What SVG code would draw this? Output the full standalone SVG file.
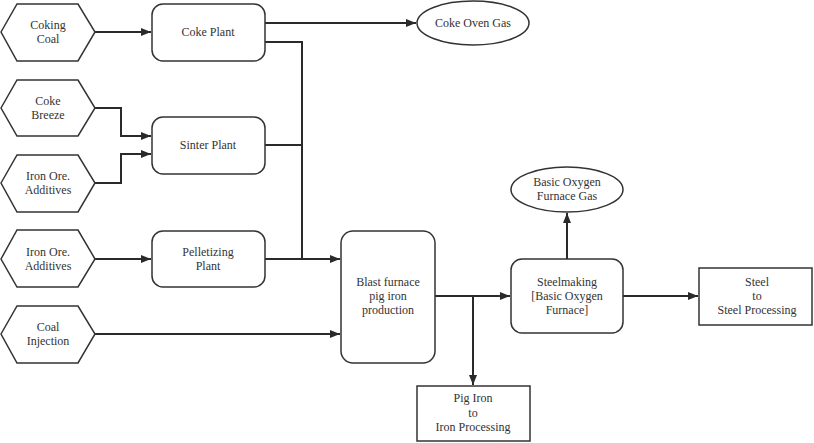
<svg xmlns="http://www.w3.org/2000/svg" width="814" height="443" viewBox="0 0 814 443">
<style>
.shape{fill:#fff;stroke:#333;stroke-width:1.5}
text{font-family:'Liberation Serif','Times New Roman',Times,'DejaVu Serif',serif;font-size:12px;fill:#333;text-anchor:middle}
.c{fill:none;stroke:#2a2a2a;stroke-width:2}
</style>
<defs>
<marker id="ah" viewBox="0 0 10 8" refX="10" refY="4" markerWidth="10" markerHeight="8" markerUnits="userSpaceOnUse" orient="auto">
<path d="M0,0 L10,4 L0,8 Z" fill="#2a2a2a"/>
</marker>
</defs>
<rect width="814" height="443" fill="#fff"/>
<g id="connectors">
<path class="c" d="M95,32 H151" marker-end="url(#ah)"/>
<path class="c" d="M265,23 H416" marker-end="url(#ah)"/>
<path class="c" d="M265,42 H302 V259"/>
<path class="c" d="M265,145 H302"/>
<path class="c" d="M265,259 H340" marker-end="url(#ah)"/>
<path class="c" d="M95,108 H121 V136 H151" marker-end="url(#ah)"/>
<path class="c" d="M95,183 H121 V154 H151" marker-end="url(#ah)"/>
<path class="c" d="M95,259 H151" marker-end="url(#ah)"/>
<path class="c" d="M95,334 H340" marker-end="url(#ah)"/>
<path class="c" d="M435,296 H510" marker-end="url(#ah)"/>
<path class="c" d="M473,296 V385" marker-end="url(#ah)"/>
<path class="c" d="M567,259 V213" marker-end="url(#ah)"/>
<path class="c" d="M623,296 H698" marker-end="url(#ah)"/>
</g>
<g id="coking-coal">
<polygon class="shape" points="1,32 17,4 78,4 95,32 78,61 17,61"/>
<text x="48" y="29" font-family="Liberation Serif">Coking</text>
<text x="48" y="43" font-family="Liberation Serif">Coal</text>
</g>
<g id="coke-breeze">
<polygon class="shape" points="1,108 17,80 78,80 95,108 78,136 17,136"/>
<text x="48" y="105">Coke</text>
<text x="48" y="119">Breeze</text>
</g>
<g id="iron-ore-1">
<polygon class="shape" points="1,183 17,155 78,155 95,183 78,212 17,212"/>
<text x="48" y="180">Iron Ore.</text>
<text x="48" y="194">Additives</text>
</g>
<g id="iron-ore-2">
<polygon class="shape" points="1,259 17,230 78,230 95,259 78,287 17,287"/>
<text x="48" y="256">Iron Ore.</text>
<text x="48" y="270">Additives</text>
</g>
<g id="coal-injection">
<polygon class="shape" points="1,334 17,306 78,306 95,334 78,363 17,363"/>
<text x="48" y="331">Coal</text>
<text x="48" y="345">Injection</text>
</g>
<g id="coke-plant">
<rect class="shape" x="152" y="4" width="113" height="57" rx="11"/>
<text x="208" y="36">Coke Plant</text>
</g>
<g id="sinter-plant">
<rect class="shape" x="152" y="117" width="113" height="57" rx="11"/>
<text x="208" y="149">Sinter Plant</text>
</g>
<g id="pelletizing-plant">
<rect class="shape" x="152" y="231" width="113" height="56" rx="11"/>
<text x="208" y="256">Pelletizing</text>
<text x="208" y="270">Plant</text>
</g>
<g id="blast-furnace">
<rect class="shape" x="341" y="231" width="94" height="132" rx="12"/>
<text x="388" y="286">Blast furnace</text>
<text x="388" y="300">pig iron</text>
<text x="388" y="314">production</text>
</g>
<g id="pig-iron">
<rect class="shape" x="417" y="386" width="113" height="55"/>
<text x="473" y="402">Pig Iron</text>
<text x="473" y="417">to</text>
<text x="473" y="431">Iron Processing</text>
</g>
<g id="steelmaking">
<rect class="shape" x="511" y="259" width="112" height="74" rx="11"/>
<text x="567" y="286">Steelmaking</text>
<text x="567" y="300">[Basic Oxygen</text>
<text x="567" y="314">Furnace]</text>
</g>
<g id="steel">
<rect class="shape" x="699" y="268" width="113" height="57"/>
<text x="757" y="286">Steel</text>
<text x="757" y="300">to</text>
<text x="757" y="314">Steel Processing</text>
</g>
<g id="coke-oven-gas">
<ellipse class="shape" cx="473" cy="23" rx="56" ry="22" stroke-width="1"/>
<text x="473" y="27">Coke Oven Gas</text>
</g>
<g id="bof-gas">
<ellipse class="shape" cx="567" cy="189.5" rx="56" ry="22.5" stroke-width="1"/>
<text x="567" y="186">Basic Oxygen</text>
<text x="567" y="200">Furnace Gas</text>
</g>
</svg>
